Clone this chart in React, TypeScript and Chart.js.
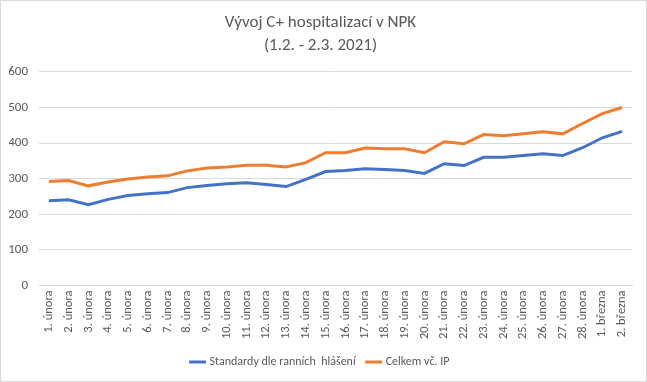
import React, { useEffect, useRef } from "react";
import { Chart, registerables } from "chart.js";

Chart.register(...registerables);

const categories = [
  "1. února", "2. února", "3. února", "4. února", "5. února", "6. února", "7. února",
  "8. února", "9. února", "10. února", "11. února", "12. února", "13. února", "14. února",
  "15. února", "16. února", "17. února", "18. února", "19. února", "20. února", "21. února",
  "22. února", "23. února", "24. února", "25. února", "26. února", "27. února", "28. února",
  "1. března", "2. března",
];

const standardy = [
  238, 241, 227, 242, 253, 258, 261, 275, 281, 286, 289, 284, 278, 298, 320,
  323, 328, 326, 323, 315, 342, 337, 360, 360, 365, 370, 365, 387, 415, 433,
];

const celkem = [
  292, 295, 280, 291, 299, 305, 308, 322, 330, 333, 338, 338, 333, 345, 373,
  373, 386, 384, 384, 373, 404, 398, 424, 421, 426, 432, 426, 455, 483, 500,
];

const titleLines = ["Vývoj C+ hospitalizací v NPK", "(1.2. - 2.3. 2021)"];
const seriesNames = ["Standardy dle ranních  hlášení", "Celkem vč. IP"];

const FONT = "Carlito, 'DejaVu Sans Condensed', 'Liberation Sans Narrow', 'Liberation Sans', sans-serif";
const TEXT = "#595959";

export default function App() {
  const ref = useRef<HTMLCanvasElement>(null);
  useEffect(() => {
    document.body.style.margin = "0";
    const ctx = ref.current!.getContext("2d")!;
    const chart = new Chart(ctx, {
      type: "line",
      data: {
        labels: categories,
        datasets: [
          {
            label: seriesNames[0],
            data: standardy,
            borderColor: "#4472C4",
            backgroundColor: "#4472C4",
            borderWidth: 3,
            pointRadius: 0,
            tension: 0,
          },
          {
            label: seriesNames[1],
            data: celkem,
            borderColor: "#ED7D31",
            backgroundColor: "#ED7D31",
            borderWidth: 3,
            pointRadius: 0,
            tension: 0,
          },
        ],
      },
      options: {
        animation: false,
        responsive: false,
        layout: { padding: { left: 8, right: 14, top: 8, bottom: 3 } },
        plugins: {
          title: {
            display: true,
            text: titleLines,
            color: TEXT,
            font: { family: FONT, size: 17, weight: "normal", lineHeight: 1.35 },
            padding: { top: 2, bottom: 15 },
          },
          legend: {
            position: "bottom",
            labels: {
              usePointStyle: true,
              pointStyle: "line",
              boxWidth: 22,
              color: TEXT,
              font: { family: FONT, size: 12 },
              padding: 12,
            },
          },
          tooltip: { enabled: false },
        },
        scales: {
          x: {
            offset: true,
            grid: { display: false, drawTicks: false },
            border: { display: true, color: "#d9d9d9" },
            ticks: {
              color: TEXT,
              font: { family: FONT, size: 12.5 },
              minRotation: 90,
              maxRotation: 90,
              autoSkip: false,
              padding: 5,
            },
          },
          y: {
            min: 0,
            max: 600,
            afterFit: (scale: any) => {
              scale.width = 30;
            },
            grid: { color: "#d9d9d9", drawTicks: false },
            border: { display: false },
            ticks: {
              stepSize: 100,
              color: TEXT,
              font: { family: FONT, size: 13 },
              padding: 11,
            },
          },
        },
      },
    });
    return () => chart.destroy();
  }, []);
  return (
    <div style={{ width: 647, height: 382, boxSizing: "border-box", border: "1px solid #d9d9d9", background: "#fff" }}>
      <canvas ref={ref} width={645} height={380} />
    </div>
  );
}
